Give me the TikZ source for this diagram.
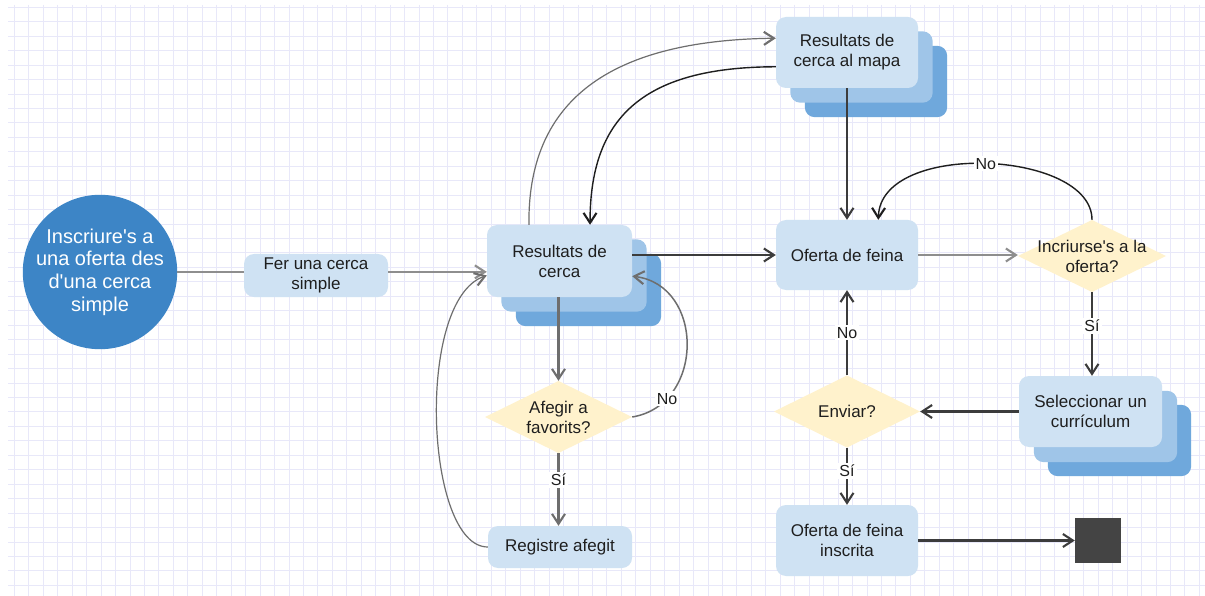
\documentclass[tikz,border=0pt]{standalone}
\usepackage{fontspec}
\setmainfont{Liberation Sans}
\usetikzlibrary{arrows.meta,calc}
\pgfdeclarelayer{gridlayer}
\pgfdeclarelayer{stacklayer}
\pgfsetlayers{gridlayer,stacklayer,main}
\definecolor{gridc}{HTML}{E8E8F9}
\definecolor{boxa}{HTML}{CFE2F3}
\definecolor{boxb}{HTML}{9FC5E8}
\definecolor{boxc}{HTML}{6FA8DC}
\definecolor{circblue}{HTML}{3D85C6}
\definecolor{diafill}{HTML}{FFF2CC}
\definecolor{txt}{HTML}{1E1E1E}
\definecolor{glinec}{HTML}{8E8E8E}
\definecolor{dlinec}{HTML}{3C3C3C}
\definecolor{blinec}{HTML}{1E1E1E}
\definecolor{tlinec}{HTML}{6E6E6E}
\definecolor{sqc}{HTML}{444444}
\begin{document}
\begin{tikzpicture}[x=1pt,y=-1pt,
  boxnode/.style={rectangle, rounded corners=10pt, fill=boxa, text=txt, align=center, inner sep=0pt,
    font=\fontsize{17}{20}\selectfont},
  dianode/.style={rectangle, text=txt, align=center, inner sep=0pt, font=\fontsize{17}{20}\selectfont,
    path picture={\fill[diafill] (path picture bounding box.north) -- (path picture bounding box.east)
      -- (path picture bounding box.south) -- (path picture bounding box.west) -- cycle;}},
  circnode/.style={circle, fill=circblue, text=white, align=center, inner sep=0pt, minimum size=144pt,
    font=\fontsize{20}{22.7}\selectfont},
  lbl/.style={fill=white, inner sep=2pt, text=txt, font=\fontsize{16}{18}\selectfont},
  arr/.style={-{Straight Barb[length=10pt,width=13pt,line width=2.1pt]}},
  gline/.style={draw=glinec, line width=2.3pt},
  dline/.style={draw=dlinec, line width=2.1pt},
  bline/.style={draw=blinec, line width=1.4pt},
  tline/.style={draw=tlinec, line width=1.2pt},
  gcurve/.style={draw=tlinec, line width=1.5pt}]
\useasboundingbox (0,0) rectangle (1205,596);
\begin{pgfonlayer}{gridlayer}
  \fill[white] (0,0) rectangle (1205,596);
  \foreach \i in {0,...,82} {\draw[gridc, line width=0.9pt] ({14.4+14.45*\i},5) -- ({14.4+14.45*\i},596);}
  \foreach \j in {0,...,40} {\draw[gridc, line width=0.9pt] (8,{7.3+14.45*\j}) -- (1205,{7.3+14.45*\j});}
\end{pgfonlayer}

% nodes
\node[circnode] (start) at (100,272) {Inscriure\textquotesingle s a\\una oferta des\\d\textquotesingle una cerca\\simple};
\node[boxnode, minimum width=144pt, minimum height=43pt] (fer) at (316,275.5) {Fer una cerca\\simple};
\node[boxnode, minimum width=145pt, minimum height=72pt] (res) at (559.5,261) {Resultats de\\cerca};
\node[boxnode, minimum width=142pt, minimum height=71pt] (map) at (847,52.5) {Resultats de\\cerca al mapa};
\node[boxnode, minimum width=142pt, minimum height=70pt] (of) at (847,255) {Oferta de feina};
\node[dianode, minimum width=148pt, minimum height=72pt] (inc) at (1092,256) {Incriurse\textquotesingle s a la\\oferta?};
\node[boxnode, minimum width=143pt, minimum height=71pt] (sel) at (1090.5,411.5) {Seleccionar un\\currículum};
\node[dianode, minimum width=146pt, minimum height=72pt] (env) at (847,411.5) {Enviar?};
\node[boxnode, minimum width=142pt, minimum height=71pt] (ins) at (847,540.5) {Oferta de feina\\inscrita};
\node[rectangle, fill=sqc, minimum width=46pt, minimum height=45pt, inner sep=0pt] (sq) at (1098,540.5) {};
\node[dianode, minimum width=147pt, minimum height=72pt] (afe) at (558.5,417) {Afegir a\\favorits?};
\node[boxnode, minimum width=144pt, minimum height=42pt] (reg) at (560,547) {Registre afegit};

% stacked layers
\begin{pgfonlayer}{stacklayer}
  \foreach \n/\a/\b in {res/14.5/29, map/14.5/29, sel/15/29} {
    \fill[boxc, rounded corners=10pt] ($(\n.north west)+(\b,\b)$) rectangle ($(\n.south east)+(\b,\b)$);
    \fill[boxb, rounded corners=10pt] ($(\n.north west)+(\a,\a)$) rectangle ($(\n.south east)+(\a,\a)$);
  }
\end{pgfonlayer}

% connectors
\coordinate (resin) at ($(res.north west)!0.65!(res.south west)$);
\draw[gline] (start.east) -- (start.east -| fer.west);
\draw[gline, arr] (fer.east |- resin) -- (resin);
\draw[dline, arr] (res.east |- of.west) -- (of.west);
\draw[dline, arr] (map.south) -- (of.north);
\draw[gline, arr] (of.east) -- (of.east -| inc.west);
\draw[dline, arr] (inc.south) -- node[lbl, pos=0.4]{Sí} (inc.south |- sel.north);
\draw[dline, arr] (sel.west) -- (env.east);
\draw[dline, arr] (env.north) -- node[lbl]{No} (of.south);
\draw[dline, arr] (env.south) -- node[lbl, pos=0.4]{Sí} (ins.north);
\draw[dline, arr] (ins.east) -- (sq.west);
\draw[gline, draw=tlinec, arr] (afe.north |- res.south) -- (afe.north);
\draw[gline, draw=tlinec, arr] (afe.south) -- node[lbl, pos=0.37]{Sí} (afe.south |- reg.north);

\draw[tline, arr] ($(res.north west)!0.29!(res.north east)$) .. controls (527,80) and (640,40) .. ($(map.north west)!0.3!(map.south west)$);
\draw[bline, arr] ($(map.north west)!0.7!(map.south west)$) .. controls (640,67) and (590,120) .. ($(res.north west)!0.71!(res.north east)$);
\draw[bline, arr] (inc.north) .. controls (1092,150) and (880,140) .. node[lbl, pos=0.5]{No} ($(of.north west)!0.72!(of.north east)$);
\draw[gcurve, arr] (afe.east) .. controls (705,405) and (705,285) .. node[lbl, pos=0.2]{No} ($(res.north east)!0.71!(res.south east)$);
\draw[tline, arr] (reg.west) .. controls (425,547) and (415,300) .. ($(res.north west)!0.7!(res.south west)$);
\end{tikzpicture}
\end{document}
